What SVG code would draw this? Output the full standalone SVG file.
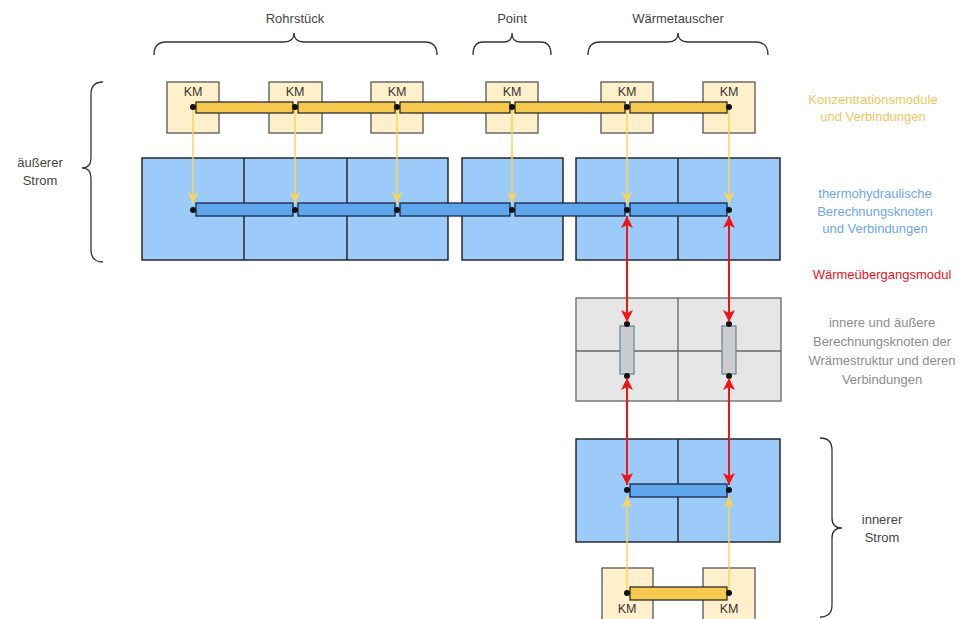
<svg xmlns="http://www.w3.org/2000/svg" width="969" height="619" viewBox="0 0 969 619">
<style>
text{font-family:"Liberation Sans",Arial,sans-serif;font-size:13px;text-anchor:middle;}
.lbl{fill:#444;}
.km{fill:#FFF0CC;stroke:#555;stroke-width:1.3;}
.kmt{fill:#333;font-size:12.5px;}
.yb{fill:#F6C84E;stroke:#2b2b2b;stroke-width:1.3;}
.blk{fill:#9DCBF9;stroke:#1c1c1c;stroke-width:1.4;}
.div{stroke:#1c1c1c;stroke-width:1.4;}
.bb{fill:#5FA6EE;stroke:#1a2640;stroke-width:1.3;}
.gblk{fill:#E6E6E6;stroke:#666;stroke-width:1.3;}
.gdiv{stroke:#666;stroke-width:1.3;}
.cyl{fill:#CCCCCC;stroke:#6F87A8;stroke-width:1.3;}
.dot{fill:#111;}
.brace{fill:none;stroke:#333;stroke-width:1.3;}
.ya{stroke:#F8D45C;stroke-width:1.5;fill:none;marker-end:url(#ya);}
.ra{stroke:#F01414;stroke-width:2;fill:none;marker-start:url(#ra);marker-end:url(#ra);}
</style>
<defs>
<marker id="ya" markerUnits="userSpaceOnUse" markerWidth="12" markerHeight="10" viewBox="0 0 12 10" refX="12" refY="5" orient="auto-start-reverse">
<path d="M0,0 L12,5 L0,10 L3,5 z" fill="#F8D45C"/>
</marker>
<marker id="ra" markerUnits="userSpaceOnUse" markerWidth="12" markerHeight="12" viewBox="0 0 12 12" refX="12" refY="6" orient="auto-start-reverse">
<path d="M0,0 L12,6 L0,12 L3,6 z" fill="#F01414"/>
</marker>
</defs>
<rect width="969" height="619" fill="#fff"/>

<g id="braces">
<path class="brace" d="M154,55 Q154,42 166,42 L284,42 Q294,42 294,33 Q294,42 304,42 L425,42 Q437,42 437,55"/>
<path class="brace" d="M473,55 Q473,42 483,42 L504,42 Q512,42 512,33 Q512,42 520,42 L541,42 Q551,42 551,55"/>
<path class="brace" d="M588,55 Q588,42 600,42 L668,42 Q678,42 678,33 Q678,42 688,42 L756,42 Q768,42 768,55"/>
<path class="brace" d="M103,82 Q91,82 91,94 L91,158 Q91,168 82,168 Q91,168 91,178 L91,250 Q91,262 103,262"/>
<path class="brace" d="M820,438 Q832,438 832,450 L832,518 Q832,528 842,528 Q832,528 832,538 L832,605 Q832,617 820,617"/>
<text class="lbl" x="295" y="23">Rohrstück</text>
<text class="lbl" x="512" y="23">Point</text>
<text class="lbl" x="678" y="23">Wärmetauscher</text>
<text class="lbl" x="40" y="167">äußerer</text>
<text class="lbl" x="40" y="185">Strom</text>
<text class="lbl" x="882" y="524">innerer</text>
<text class="lbl" x="882" y="542">Strom</text>
</g>

<g id="blue-blocks">
<rect class="blk" x="142" y="158" width="306" height="102"/>
<line class="div" x1="244" y1="158" x2="244" y2="260"/>
<line class="div" x1="347" y1="158" x2="347" y2="260"/>
<rect class="blk" x="462" y="158" width="101" height="102"/>
<rect class="blk" x="576" y="158" width="204" height="102"/>
<line class="div" x1="678" y1="158" x2="678" y2="260"/>
</g>

<g id="gray-block">
<rect class="gblk" x="576" y="298" width="205" height="103"/>
<line class="gdiv" x1="678" y1="298" x2="678" y2="401"/>
<line class="gdiv" x1="576" y1="351" x2="781" y2="351"/>
</g>

<g id="inner-blue-block">
<rect class="blk" x="576" y="439" width="204" height="103"/>
<line class="div" x1="678" y1="439" x2="678" y2="542"/>
</g>

<g id="km-top">
<rect class="km" x="167" y="82" width="52" height="51"/>
<rect class="km" x="269" y="82" width="53" height="51"/>
<rect class="km" x="371" y="82" width="52" height="51"/>
<rect class="km" x="486" y="82" width="52" height="51"/>
<rect class="km" x="601" y="82" width="52" height="51"/>
<rect class="km" x="703" y="82" width="52" height="51"/>
<text class="kmt" x="193" y="96">KM</text>
<text class="kmt" x="295" y="96">KM</text>
<text class="kmt" x="397" y="96">KM</text>
<text class="kmt" x="512" y="96">KM</text>
<text class="kmt" x="627" y="96">KM</text>
<text class="kmt" x="729" y="96">KM</text>
</g>

<g id="km-bottom">
<rect class="km" x="602" y="568" width="51" height="60"/>
<rect class="km" x="703" y="568" width="52" height="60"/>
<text class="kmt" x="627" y="613">KM</text>
<text class="kmt" x="729" y="613">KM</text>
</g>

<g id="connectors">
<!-- yellow bar top -->
<rect class="yb" x="196" y="102" width="97" height="11"/>
<rect class="yb" x="298" y="102" width="97" height="11"/>
<rect class="yb" x="400" y="102" width="110" height="11"/>
<rect class="yb" x="515" y="102" width="110" height="11"/>
<rect class="yb" x="630" y="102" width="97" height="11"/>
<circle class="dot" cx="193" cy="107" r="3"/>
<circle class="dot" cx="295" cy="107" r="3"/>
<circle class="dot" cx="397" cy="107" r="3"/>
<circle class="dot" cx="512" cy="107" r="3"/>
<circle class="dot" cx="627" cy="107" r="3"/>
<circle class="dot" cx="729" cy="107" r="3"/>
<!-- blue bar -->
<rect class="bb" x="196" y="203" width="97" height="13"/>
<rect class="bb" x="298" y="203" width="97" height="13"/>
<rect class="bb" x="400" y="203" width="110" height="13"/>
<rect class="bb" x="515" y="203" width="110" height="13"/>
<rect class="bb" x="630" y="203" width="97" height="13"/>
<circle class="dot" cx="193" cy="210" r="3"/>
<circle class="dot" cx="295" cy="210" r="3"/>
<circle class="dot" cx="397" cy="210" r="3"/>
<circle class="dot" cx="512" cy="210" r="3"/>
<circle class="dot" cx="627" cy="210" r="3"/>
<circle class="dot" cx="729" cy="210" r="3"/>
<!-- yellow arrows top -->
<line class="ya" x1="193" y1="110" x2="193" y2="204"/>
<line class="ya" x1="295" y1="110" x2="295" y2="204"/>
<line class="ya" x1="397" y1="110" x2="397" y2="204"/>
<line class="ya" x1="512" y1="110" x2="512" y2="204"/>
<line class="ya" x1="627" y1="110" x2="627" y2="204"/>
<line class="ya" x1="729" y1="110" x2="729" y2="204"/>
<!-- heat structure cylinders -->
<rect class="cyl" x="620" y="326" width="14" height="48"/>
<rect class="cyl" x="722" y="326" width="14" height="48"/>
<circle class="dot" cx="627" cy="324" r="3"/>
<circle class="dot" cx="627" cy="376" r="3"/>
<circle class="dot" cx="729" cy="324" r="3"/>
<circle class="dot" cx="729" cy="376" r="3"/>
<!-- red arrows -->
<line class="ra" x1="627" y1="216" x2="627" y2="322"/>
<line class="ra" x1="729" y1="216" x2="729" y2="322"/>
<line class="ra" x1="627" y1="378" x2="627" y2="485"/>
<line class="ra" x1="729" y1="378" x2="729" y2="485"/>
<!-- inner blue bar -->
<rect class="bb" x="630" y="484" width="97" height="13"/>
<circle class="dot" cx="627" cy="490" r="3"/>
<circle class="dot" cx="729" cy="490" r="3"/>
<!-- bottom yellow bar -->
<rect class="yb" x="630" y="587" width="97" height="13"/>
<circle class="dot" cx="627" cy="593" r="3"/>
<circle class="dot" cx="729" cy="593" r="3"/>
<line class="ya" x1="627" y1="590" x2="627" y2="496"/>
<line class="ya" x1="729" y1="590" x2="729" y2="496"/>
</g>

<g id="legend">
<text x="873" y="104" fill="#F3C561">Konzentrationsmodule</text>
<text x="873" y="121" fill="#F3C561">und Verbindungen</text>
<text x="875" y="198" fill="#6FA6EE">thermohydraulische</text>
<text x="875" y="216" fill="#6FA6EE">Berechnungsknoten</text>
<text x="875" y="233" fill="#6FA6EE">und Verbindungen</text>
<text x="882" y="279" fill="#E8141C">Wärmeübergangsmodul</text>
<text x="882" y="327" fill="#8C8C8C">innere und äußere</text>
<text x="882" y="346" fill="#8C8C8C">Berechnungsknoten der</text>
<text x="882" y="365" fill="#8C8C8C">Wrämestruktur und deren</text>
<text x="882" y="384" fill="#8C8C8C">Verbindungen</text>
</g>
</svg>
